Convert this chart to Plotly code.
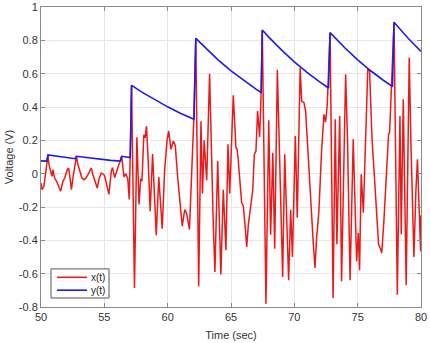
import plotly.graph_objects as go

# x(t) signal (red)
t_x = [50.00, 50.08, 50.23, 50.34, 50.55, 50.63, 50.76, 50.87, 50.94, 51.08, 51.23, 51.39, 51.55,
       51.73, 51.87, 52.08, 52.18, 52.29, 52.40, 52.52, 52.65, 52.80, 52.92, 53.08, 53.23, 53.39,
       53.55, 53.71, 53.87, 53.97, 54.10, 54.29, 54.44, 54.60, 54.76, 54.97, 55.02, 55.18, 55.36,
       55.55, 55.65, 55.81, 55.97, 56.13, 56.37, 56.45, 56.55, 56.70, 56.85, 56.97, 57.15, 57.38,
       57.57, 57.74, 57.87, 57.97, 58.12, 58.22, 58.33, 58.45, 58.62, 58.81, 59.10, 59.30, 59.57,
       59.76, 59.95, 60.08, 60.26, 60.45, 60.60, 60.79, 60.97, 61.15, 61.35, 61.50, 61.72, 61.92,
       62.05, 62.22, 62.45, 62.63, 62.75, 62.88, 63.08, 63.31, 63.45, 63.60, 63.73, 63.95, 64.05,
       64.20, 64.39, 64.60, 64.76, 64.90, 65.18, 65.39, 65.47, 65.55, 65.84, 65.97, 66.10, 66.24,
       66.37, 66.50, 66.71, 66.84, 66.97, 67.10, 67.26, 67.38, 67.47, 67.76, 67.98, 68.13, 68.30,
       68.45, 68.66, 69.08, 69.24, 69.55, 69.71, 69.85, 70.08, 70.23, 70.46, 70.58, 70.76, 70.89,
       71.08, 71.29, 71.50, 71.63, 71.76, 71.94, 72.15, 72.34, 72.47, 72.60, 72.82, 73.06, 73.23,
       73.36, 73.58, 73.73, 74.05, 74.20, 74.40, 74.65, 74.80, 74.92, 75.05, 75.15, 75.28, 75.45,
       75.80, 75.94, 76.13, 76.34, 76.47, 76.65, 76.81, 76.90, 77.07, 77.26, 77.44, 77.52, 77.65,
       77.87, 78.13, 78.34, 78.44, 78.60, 78.83, 79.07, 79.20, 79.44, 79.60, 79.72, 79.85, 79.97,
       80.00]
x_vals = [-0.056, -0.096, -0.076, -0.006, 0.112, 0.054, 0.014, -0.016, 0.024, -0.026, -0.046, -0.076, -0.106,
          -0.046, -0.026, 0.024, 0.034, -0.026, -0.096, -0.026, 0.034, 0.104, 0.054, 0.004, -0.026, -0.036,
          -0.026, -0.006, 0.024, 0.034, -0.006, -0.056, -0.086, -0.026, 0.004, -0.006, -0.014, -0.064, -0.124,
          0.016, 0.036, -0.024, 0.016, 0.056, 0.104, 0.050, -0.020, 0.000, -0.030, -0.155, 0.530, -0.686,
          0.218, -0.184, -0.030, -0.045, 0.234, 0.215, 0.285, 0.100, -0.225, 0.118, -0.370, -0.020, -0.330,
          0.020, 0.200, 0.256, 0.146, 0.196, 0.170, -0.020, -0.180, -0.315, -0.215, -0.240, -0.335, 0.000,
          0.300, 0.812, -0.676, 0.314, -0.120, 0.200, -0.040, 0.600, 0.120, -0.300, -0.590, 0.076, -0.200,
          -0.605, -0.096, -0.460, 0.176, -0.120, 0.470, 0.156, 0.150, 0.100, -0.174, -0.194, -0.300, -0.440,
          -0.304, -0.224, -0.104, 0.116, 0.136, 0.376, 0.220, 0.490, 0.862, -0.780, 0.320, -0.366, 0.126,
          -0.450, 0.624, -0.620, 0.116, -0.640, -0.216, -0.500, 0.226, -0.264, 0.634, 0.436, 0.426, 0.376,
          0.116, -0.184, -0.424, -0.566, -0.384, -0.224, 0.136, 0.356, 0.310, 0.416, 0.846, -0.746, 0.326,
          -0.424, 0.346, -0.646, 0.596, 0.200, -0.640, 0.206, -0.280, -0.526, -0.354, -0.580, -0.004, -0.234,
          0.632, 0.616, 0.216, -0.044, -0.164, -0.424, -0.454, -0.476, -0.284, -0.024, 0.236, 0.246, 0.516,
          0.908, -0.726, 0.346, -0.364, 0.446, -0.670, 0.696, 0.200, -0.500, -0.100, 0.086, -0.200, -0.466,
          -0.250]

# y(t) envelope (blue)
t_y = [50.00, 50.45, 50.55, 51.50, 52.70, 52.80, 53.50, 54.50, 55.50, 56.25, 56.37, 57.05, 57.15,
       58.00, 59.00, 60.00, 61.00, 62.08, 62.22, 63.00, 64.00, 65.00, 66.00, 67.00, 67.38, 67.47,
       68.00, 69.00, 70.00, 70.50, 71.00, 72.00, 72.70, 72.82, 74.00, 75.00, 75.80, 76.00, 77.00,
       77.75, 77.87, 79.00, 80.00]
y_vals = [0.077, 0.075, 0.112, 0.101, 0.090, 0.104, 0.097, 0.088, 0.080, 0.075, 0.104, 0.097, 0.530,
          0.488, 0.442, 0.401, 0.363, 0.327, 0.812, 0.752, 0.681, 0.617, 0.559, 0.506, 0.487, 0.862,
          0.818, 0.741, 0.671, 0.638, 0.608, 0.551, 0.514, 0.846, 0.754, 0.683, 0.632, 0.619, 0.562,
          0.522, 0.908, 0.811, 0.734]

series_names = ["x(t)", "y(t)"]
series_colors = ["rgb(238,24,24)", "rgb(28,28,232)"]

x_ticks = [50, 55, 60, 65, 70, 75, 80]
y_ticks = [-0.8, -0.6, -0.4, -0.2, 0, 0.2, 0.4, 0.6, 0.8, 1]
y_tick_text = ["-0.8", "-0.6", "-0.4", "-0.2", "0", "0.2", "0.4", "0.6", "0.8", "1"]

FONT = "Liberation Sans, Arial"

fig = go.Figure()
fig.add_trace(go.Scatter(x=t_x, y=x_vals, mode="lines", name=series_names[0],
                         line=dict(color=series_colors[0], width=1.5)))
fig.add_trace(go.Scatter(x=t_y, y=y_vals, mode="lines", name=series_names[1],
                         line=dict(color=series_colors[1], width=1.6)))

axis_common = dict(showgrid=True, gridcolor="#e6e6e6", gridwidth=1, zeroline=False,
                   showline=True, linecolor="#8a8a8a", linewidth=1, mirror="allticks",
                   ticks="inside", ticklen=4, tickcolor="#8a8a8a",
                   tickfont=dict(family=FONT, size=11, color="#333333"))

fig.update_xaxes(range=[50, 80], tickvals=x_ticks, ticktext=[str(v) for v in x_ticks],
                 title=dict(text="Time (sec)", standoff=9,
                            font=dict(family=FONT, size=11, color="#333333")),
                 **axis_common)
fig.update_yaxes(range=[-0.8, 1], tickvals=y_ticks, ticktext=y_tick_text,
                 title=dict(text="Voltage (V)", standoff=2,
                            font=dict(family=FONT, size=11, color="#333333")),
                 **axis_common)

# Legend box drawn in the MATLAB style (compact box, bottom-left)
legend_box = dict(x0=0.0263, x1=0.179, y0=0.03, y1=0.127)
legend_rows_y = [0.099, 0.056]
fig.add_shape(type="rect", xref="paper", yref="paper",
              x0=legend_box["x0"], x1=legend_box["x1"], y0=legend_box["y0"], y1=legend_box["y1"],
              line=dict(color="#555555", width=1), fillcolor="white", layer="above")
for name, color, ry in zip(series_names, series_colors, legend_rows_y):
    fig.add_shape(type="line", xref="paper", yref="paper", x0=0.042, x1=0.121, y0=ry, y1=ry,
                  line=dict(color=color, width=1.6), layer="above")
    fig.add_annotation(x=0.127, y=ry, xref="paper", yref="paper", text=name, showarrow=False,
                       xanchor="left", yanchor="middle",
                       font=dict(family=FONT, size=10, color="#222222"))

fig.update_layout(
    width=430, height=343,
    margin=dict(l=41, r=9, t=7, b=36, autoexpand=False),
    paper_bgcolor="white", plot_bgcolor="white",
    showlegend=False,
)

fig.write_html("out.html")
